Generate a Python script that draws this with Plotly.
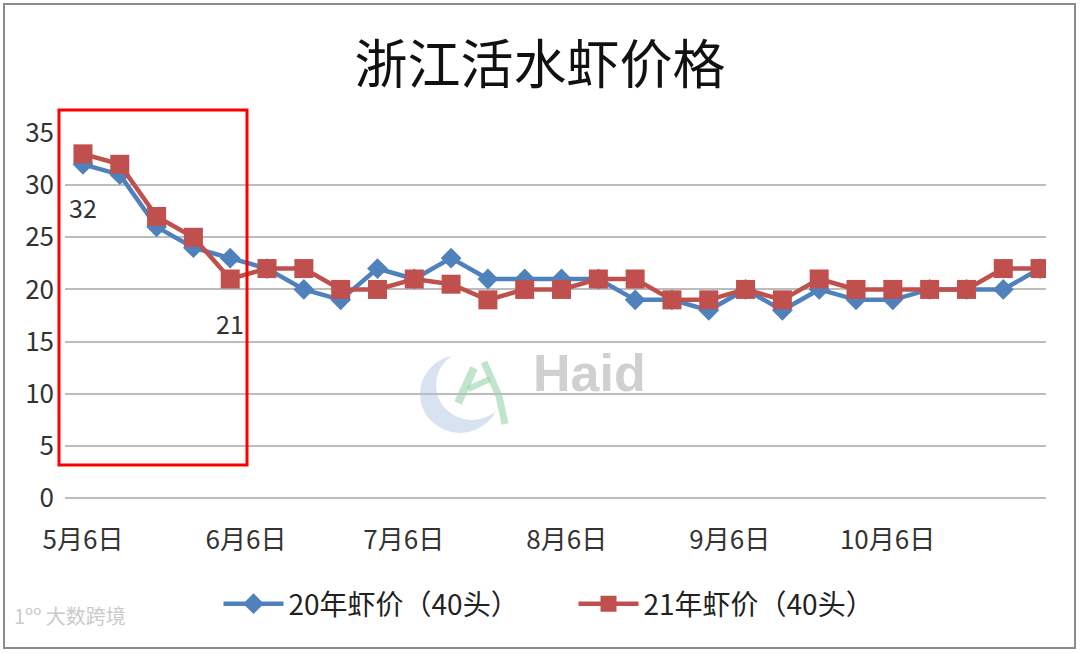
import plotly.graph_objects as go

dates = ["2021-05-06", "2021-05-13", "2021-05-20", "2021-05-27", "2021-06-03", "2021-06-10",
         "2021-06-17", "2021-06-24", "2021-07-01", "2021-07-08", "2021-07-15", "2021-07-22",
         "2021-07-29", "2021-08-05", "2021-08-12", "2021-08-19", "2021-08-26", "2021-09-02",
         "2021-09-09", "2021-09-16", "2021-09-23", "2021-09-30", "2021-10-07", "2021-10-14",
         "2021-10-21", "2021-10-28", "2021-11-04"]
price_20 = [32, 31, 26, 24, 23, 22, 20, 19, 22, 21, 23, 21, 21, 21, 21, 19, 19, 18, 20, 18,
            20, 19, 19, 20, 20, 20, 22]
price_21 = [33, 32, 27, 25, 21, 22, 22, 20, 20, 21, 20.5, 19, 20, 20, 21, 21, 19, 19, 20, 19,
            21, 20, 20, 20, 20, 22, 22]
series_names = ["20年虾价（40头）", "21年虾价（40头）"]
tick_vals = ["2021-05-06", "2021-06-06", "2021-07-06", "2021-08-06", "2021-09-06", "2021-10-06"]
tick_text = ["5月6日", "6月6日", "7月6日", "8月6日", "9月6日", "10月6日"]
y_ticks = [0, 5, 10, 15, 20, 25, 30, 35]
title_text = "浙江活水虾价格"

FONT = "Noto Sans CJK SC"
W, H = 1080, 653
L, R, T, B = 65, 34, 133, 155
pw, ph = W - L - R, H - T - B


def px(x):
    return (x - L) / pw


def py(y):
    return (H - B - y) / ph


def path_of(points):
    parts = []
    for i, (a, b) in enumerate(points):
        parts.append("{} {} {}".format("M" if i == 0 else "L", px(a), py(b)))
    return " ".join(parts)


fig = go.Figure()
fig.add_trace(go.Scatter(
    x=dates, y=price_20, name=series_names[0], mode="lines+markers",
    line=dict(color="#4F81BD", width=4.5),
    marker=dict(symbol="diamond", size=16, color="#4F81BD"),
))
fig.add_trace(go.Scatter(
    x=dates, y=price_21, name=series_names[1], mode="lines+markers",
    line=dict(color="#C0504D", width=4.5),
    marker=dict(symbol="square", size=19, color="#C0504D"),
))

annotations = [
    dict(x=dates[0], y=price_20[0], xref="x", yref="y", text=str(price_20[0]), showarrow=False,
         yshift=-43, font=dict(family=FONT, size=25, color="#333333")),
    dict(x=dates[4], y=price_21[4], xref="x", yref="y", text=str(price_21[4]), showarrow=False,
         yshift=-44, font=dict(family=FONT, size=25, color="#333333")),
    # watermarks
    dict(x=px(589), y=py(404), xref="paper", yref="paper", text="<b>Haid</b>", showarrow=False,
         font=dict(family="Liberation Sans", size=52, color="rgba(150,150,150,0.45)")),
    dict(x=px(12), y=py(632), xref="paper", yref="paper", xanchor="left",
         text="1ºº 大数跨境", showarrow=False,
         font=dict(family=FONT, size=20, color="rgba(195,195,195,0.9)")),
]

green = "rgba(150,210,170,0.6)"
shapes = [
    # outer frame
    dict(type="rect", xref="paper", yref="paper", x0=px(4), x1=px(1075), y0=py(648), y1=py(4),
         line=dict(color="#8c8c8c", width=2), layer="below"),
    # red highlight box
    dict(type="rect", xref="paper", yref="paper", x0=px(59), x1=px(247), y0=py(465), y1=py(110),
         line=dict(color="#FF0000", width=3)),
    # crescent watermark
    dict(type="circle", xref="paper", yref="paper", x0=px(420), x1=px(500), y0=py(433), y1=py(355),
         fillcolor="rgba(170,190,225,0.45)", line=dict(width=0), layer="below"),
    dict(type="circle", xref="paper", yref="paper", x0=px(436), x1=px(508), y0=py(420), y1=py(350),
         fillcolor="white", line=dict(width=0), layer="below"),
    # green strokes of the watermark logo
    dict(type="path", xref="paper", yref="paper", path=path_of([(458, 403), (474, 368)]),
         line=dict(color=green, width=8), layer="below"),
    dict(type="path", xref="paper", yref="paper", path=path_of([(468, 389), (490, 379)]),
         line=dict(color=green, width=6), layer="below"),
    dict(type="path", xref="paper", yref="paper", path=path_of([(484, 362), (499, 396), (505, 424)]),
         line=dict(color=green, width=7), layer="below"),
]

fig.update_layout(
    width=W, height=H,
    margin=dict(l=L, r=R, t=T, b=B),
    paper_bgcolor="white", plot_bgcolor="rgba(0,0,0,0)",
    title=dict(text=title_text, x=0.5, xref="container", xanchor="center", y=1 - 65 / H,
               yref="container", yanchor="middle",
               font=dict(family=FONT, size=53, color="#111111")),
    xaxis=dict(type="date", range=["2021-05-02 14:00", "2021-11-05 03:00"],
               tickvals=tick_vals, ticktext=tick_text, showgrid=False, zeroline=False,
               showline=False, ticks="", ticklabelstandoff=24,
               tickfont=dict(family=FONT, size=26, color="#333333")),
    yaxis=dict(range=[0, 35], tickvals=y_ticks, showgrid=True, gridcolor="#bcbcbc", gridwidth=2,
               zeroline=True, zerolinecolor="#bcbcbc", zerolinewidth=2, showline=False, ticks="",
               ticklabelstandoff=10,
               tickfont=dict(family=FONT, size=26, color="#333333")),
    legend=dict(orientation="h", x=0.5 + 18 / pw, xanchor="center", y=py(604), yanchor="middle",
                font=dict(family=FONT, size=28, color="#222222"), itemwidth=60,
                entrywidth=280, entrywidthmode="pixels"),
    annotations=annotations,
    shapes=shapes,
)

fig.write_html("out.html", config={"displayModeBar": False},
               post_script="document.body.style.margin='0px';")
